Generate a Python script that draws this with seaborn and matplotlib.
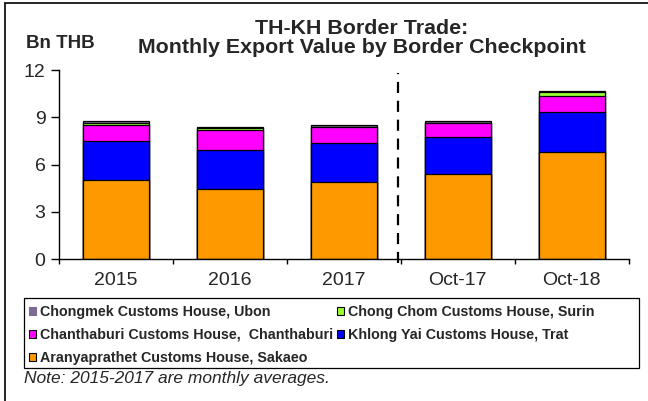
import numpy as np
import pandas as pd
import matplotlib
matplotlib.use("Agg")
import matplotlib.pyplot as plt
from matplotlib.patches import Patch, Rectangle
from matplotlib.ticker import FixedLocator
import seaborn as sns

periods = ["2015", "2016", "2017", "Oct-17", "Oct-18"]

# export value by checkpoint, Bn THB (bottom to top of the stack)
aranyaprathet = [5.05, 4.43, 4.92, 5.39, 6.80]
khlong_yai = [2.44, 2.53, 2.43, 2.36, 2.51]
chanthaburi = [1.00, 1.21, 1.02, 0.87, 1.04]
chong_chom = [0.17, 0.17, 0.02, 0.05, 0.27]
chongmek = [0.08, 0.06, 0.10, 0.11, 0.05]

series = [
    ("Aranyaprathet Customs House, Sakaeo", aranyaprathet, "#FF9900"),
    ("Khlong Yai Customs House, Trat", khlong_yai, "#0000FF"),
    ("Chanthaburi Customs House,  Chanthaburi", chanthaburi, "#FF00FF"),
    ("Chong Chom Customs House, Surin", chong_chom, "#99FF33"),
    ("Chongmek Customs House, Ubon", chongmek, "#7F6A93"),
]

sns.set_style("white")
plt.rcParams["font.family"] = ["Liberation Sans", "DejaVu Sans"]

W, H = 648, 401
fig = plt.figure(figsize=(6.48, 4.01), dpi=100)
ax = fig.add_axes([0.0915, 0.3534, 0.8787, 0.472])

# stacked bars: draw cumulative totals from the top segment down
cum = np.cumsum([np.array(s[1]) for s in series], axis=0)
for i in range(len(series) - 1, -1, -1):
    df = pd.DataFrame({"period": periods, "value": cum[i]})
    sns.barplot(data=df, x="period", y="value", color=series[i][2], width=0.58,
                edgecolor="black", linewidth=0.9, saturation=1, ax=ax, zorder=2)

ax.set_ylim(0, 12)
ax.set_xlim(-0.5, 4.5)
ax.set_yticks([0, 3, 6, 9, 12])
ax.set_xlabel("")
ax.set_ylabel("")
ax.tick_params(axis="y", which="major", direction="out", length=6, width=1,
               color="black", labelsize=14, pad=4, left=True)
ax.tick_params(axis="x", which="major", length=0, labelsize=14, pad=9)
ax.xaxis.set_minor_locator(FixedLocator(np.arange(-0.5, 5, 1)))
ax.tick_params(axis="x", which="minor", direction="out", length=3.8, width=1,
               color="black", bottom=True)
for s in ["top", "right"]:
    ax.spines[s].set_visible(False)
for s in ["left", "bottom"]:
    ax.spines[s].set_color("black")
    ax.spines[s].set_linewidth(1)

# divider between yearly averages and monthly values
ax.plot([2.47, 2.47], [-0.25, 11.8], color="black", linestyle=(0, (5, 3.5)),
        linewidth=1.6, clip_on=False, zorder=3)

fig.text(0.558, 1 - 38 / H,
         "TH-KH Border Trade:\nMonthly Export Value by Border Checkpoint",
         ha="center", va="center", fontsize=15.4, fontweight="bold",
         linespacing=1.06)
fig.text(26 / W, 1 - 43 / H, "Bn THB", ha="left", va="center", fontsize=13.5,
         fontweight="bold")

handles = {name: Patch(facecolor=c, edgecolor="black", linewidth=0.8)
           for name, _, c in series}
handles["Chongmek Customs House, Ubon"].set_edgecolor("#7F6A93")
order = ["Chongmek Customs House, Ubon",
         "Chanthaburi Customs House,  Chanthaburi",
         "Aranyaprathet Customs House, Sakaeo",
         "Chong Chom Customs House, Surin",
         "Khlong Yai Customs House, Trat"]
leg = fig.legend([handles[n] for n in order], order, ncol=2,
                 loc="upper left", bbox_to_anchor=(29 / W, 1 - 305 / H),
                 frameon=False, prop={"weight": "bold", "size": 10.25},
                 handlelength=0.5, handleheight=0.5, handletextpad=0.3,
                 columnspacing=0.25, labelspacing=0.62, borderpad=0,
                 borderaxespad=0)

# legend box is wider than its entries
fig.patches.append(Rectangle((24 / W, 1 - 367.7 / H), (639 - 24) / W, 70 / H,
                             transform=fig.transFigure, fill=False,
                             edgecolor="black", linewidth=0.9))

fig.text(24 / W, 1 - 378.3 / H, "Note: 2015-2017 are monthly averages.",
         ha="left", va="center", fontsize=12.5, fontstyle="italic")

# outer chart frame
fig.patches.append(Rectangle((5 / W, -0.05), 1.2, 1.05 - 3 / H,
                             transform=fig.transFigure, fill=False,
                             edgecolor="black", linewidth=1.2))

fig.savefig("out.png", dpi=100)
